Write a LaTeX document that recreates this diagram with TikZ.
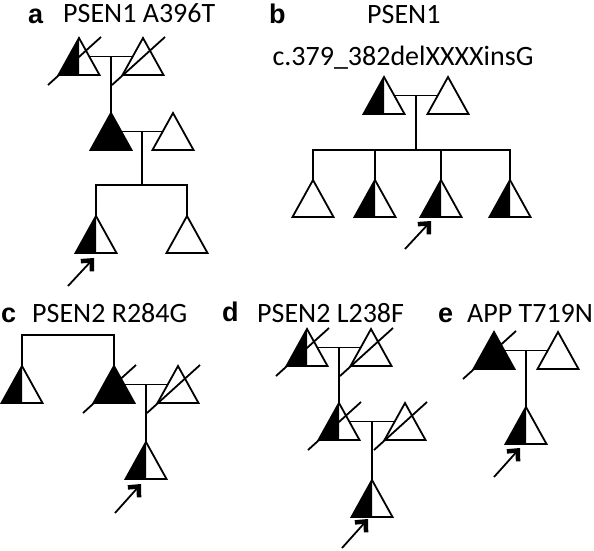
\documentclass[tikz,border=0pt]{standalone}
\usepackage{fontspec}
\setmainfont{Carlito}
\newfontfamily\labfont{Liberation Sans}
\usetikzlibrary{arrows.meta,calc}
\tikzset{
  ped/.style={line width=1.8pt},
  proband/.style={line width=1.8pt,-{Straight Barb[length=8pt,width=15pt,line width=4.5pt]}},
  title/.style={anchor=base west,inner sep=0pt,font=\fontsize{28}{30}\selectfont},
  panel/.style={anchor=base west,inner sep=0pt,font=\labfont\bfseries\fontsize{27}{30}\selectfont},
}
\newcommand\trikeys[3]{%
  \coordinate (#1) at (#2,#3);
  \coordinate (#1-l) at (#2-10.25,#3+18.5);
  \coordinate (#1-r) at (#2+10.25,#3+18.5);}
\newcommand\triO[3]{\trikeys{#1}{#2}{#3}%
  \draw[ped] (#1) -- ++(-20.5,37) -- ++(41,0) -- cycle;}
\newcommand\triH[3]{\trikeys{#1}{#2}{#3}%
  \fill (#1) -- ++(-20.5,37) -- ++(20.5,0) -- cycle;
  \draw[ped] (#1) -- ++(-20.5,37) -- ++(41,0) -- cycle;}
\newcommand\triF[3]{\trikeys{#1}{#2}{#3}%
  \filldraw[ped] (#1) -- ++(-20.5,37) -- ++(41,0) -- cycle;}
\newcommand\dec[1]{\draw[ped] ($(#1)+(-31,47)$) -- ($(#1)+(22,-1)$);}
\begin{document}
\begin{tikzpicture}[x=1pt,y=-1pt]
\useasboundingbox (0,0) rectangle (594,551);
% ---------- panel a ----------
\node[panel] (la) at (28,24) {a};
\node[title] (ta) at (63,23) {PSEN1 A396T};
\triH{a1}{79}{38} \dec{a1}
\triO{a2}{143}{38} \dec{a2}
\coordinate (am1) at ($(a1-r)!0.5!(a2-l)$);
\draw[ped] (a1-r) -- (a2-l);
\triF{a3}{111}{113}
\triO{a4}{173}{113}
\coordinate (am2) at ($(a3-r)!0.5!(a4-l)$);
\draw[ped] (am1) -- (a3);
\draw[ped] (a3-r) -- (a4-l);
\triH{a5}{96}{216}
\triO{a6}{187}{216}
\coordinate (as) at (142,185);
\draw[ped] (am2) -- (as);
\draw[ped] (a5) -- (a5 |- as) -- (a6 |- as) -- (a6);
\coordinate (aps) at (68,286); \coordinate (apt) at (94,258);
\draw[proband] (aps) -- (apt);
% ---------- panel b ----------
\node[panel] (lb) at (269,24) {b};
\node[title] (tb) at (367,24) {PSEN1};
\node[title,anchor=base] (tb2) at (403,66) {c.379\_382delXXXXinsG};
\triH{b1}{384}{77}
\triO{b2}{448}{77}
\draw[ped] (b1-r) -- (b2-l);
\coordinate (bm) at ($(b1-r)!0.5!(b2-l)$);
\coordinate (bs) at (416,150);
\draw[ped] (bm) -- (bs);
\triO{b3}{313}{180}
\triH{b4}{375}{180}
\triH{b5}{441}{180}
\triH{b6}{510}{180}
\draw[ped] (b3) -- (b3 |- bs) -- (b6 |- bs) -- (b6);
\draw[ped] (b4) -- (b4 |- bs);
\draw[ped] (b5) -- (b5 |- bs);
\coordinate (bps) at (405,249); \coordinate (bpt) at (431,221);
\draw[proband] (bps) -- (bpt);
% ---------- panel c ----------
\node[panel] (lc) at (1,322) {c};
\node[title] (tc) at (32,322) {PSEN2 R284G};
\triH{c1}{22}{366}
\triF{c2}{114}{366} \dec{c2}
\coordinate (ctop) at (22,335);
\draw[ped] (c1) -- (ctop) -| (c2);
\triO{c3}{178}{366} \dec{c3}
\draw[ped] (c2-r) -- (c3-l);
\coordinate (cm) at ($(c2-r)!0.5!(c3-l)$);
\triH{c4}{146}{442}
\draw[ped] (cm) -- (c4);
\coordinate (cps) at (115,513); \coordinate (cpt) at (141,484);
\draw[proband] (cps) -- (cpt);
% ---------- panel d ----------
\node[panel] (ld) at (222,321) {d};
\node[title] (td) at (257,322) {PSEN2 L238F};
\triH{d1}{307}{329} \dec{d1}
\triO{d2}{371}{329} \dec{d2}
\draw[ped] (d1-r) -- (d2-l);
\coordinate (dm1) at ($(d1-r)!0.5!(d2-l)$);
\triH{d3}{339}{403} \dec{d3}
\triO{d4}{405}{403} \dec{d4}
\draw[ped] (dm1) -- (d3);
\draw[ped] (d3-r) -- (d4-l);
\coordinate (dm2) at ($(d3-r)!0.5!(d4-l)$);
\triH{d5}{372}{480}
\draw[ped] (dm2) -- (d5);
\coordinate (dps) at (342,548); \coordinate (dpt) at (368,519);
\draw[proband] (dps) -- (dpt);
% ---------- panel e ----------
\node[panel] (le) at (438,322) {e};
\node[title] (te) at (467,322) {APP T719N};
\triF{e1}{494}{332} \dec{e1}
\triO{e2}{558}{332}
\draw[ped] (e1-r) -- (e2-l);
\coordinate (em) at ($(e1-r)!0.5!(e2-l)$);
\triH{e3}{526}{407}
\draw[ped] (em) -- (e3);
\coordinate (eps) at (494,477); \coordinate (ept) at (520,448);
\draw[proband] (eps) -- (ept);
\end{tikzpicture}
\end{document}
